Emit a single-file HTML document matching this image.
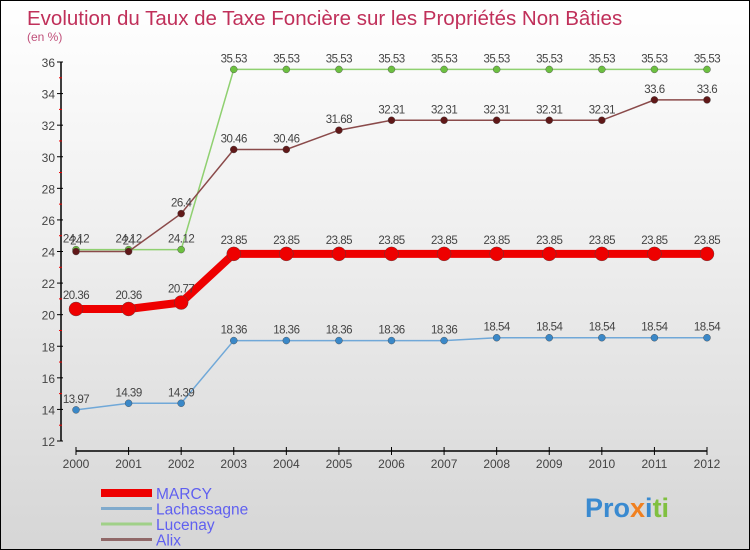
<!DOCTYPE html>
<html><head><meta charset="utf-8"><style>
body{margin:0}
#c{width:750px;height:550px;position:relative;box-sizing:border-box;border:1px solid #000;background:linear-gradient(#ffffff,#f0f0f0 40%,#d6d6d6);font-family:"Liberation Sans",sans-serif;overflow:hidden}
</style></head><body>
<div id="c">
<svg id="s" width="750" height="550" style="position:absolute;left:0;top:0">
<text x="26" y="24" font-size="20.5" fill="#c0305a">Evolution du Taux de Taxe Foncière sur les Propriétés Non Bâties</text>
<text x="26" y="40" font-size="12" fill="#c0507a">(en %)</text>
<g id="axes"></g><g id="series"></g><g id="legend"></g>
<text x="584" y="516" font-size="27" font-weight="bold" fill="#3a8ad0">Pro<tspan fill="#f08020">x</tspan><tspan fill="#3a8ad0">i</tspan><tspan fill="#80c040">ti</tspan></text>
</svg>
</div>
<script>
const years=[2000,2001,2002,2003,2004,2005,2006,2007,2008,2009,2010,2011,2012];
const yTicks=[12,14,16,18,20,22,24,26,28,30,32,34,36];
const marcy=[20.36,20.36,20.77,23.85,23.85,23.85,23.85,23.85,23.85,23.85,23.85,23.85,23.85];
const lachassagne=[13.97,14.39,14.39,18.36,18.36,18.36,18.36,18.36,18.54,18.54,18.54,18.54,18.54];
const lucenay=[24.12,24.12,24.12,35.53,35.53,35.53,35.53,35.53,35.53,35.53,35.53,35.53,35.53];
const alix=[24,24,26.4,30.46,30.46,31.68,32.31,32.31,32.31,32.31,32.31,33.6,33.6];
const names=["MARCY","Lachassagne","Lucenay","Alix"];
const NS="http://www.w3.org/2000/svg";
const X=i=>75+i*(706-75)/(years.length-1);
const Y=v=>61+(36-v)*(440-61)/(36-12);
function mk(tag,attrs,parent,text){const e=document.createElementNS(NS,tag);for(const k in attrs)e.setAttribute(k,attrs[k]);if(text!==undefined)e.textContent=text;parent.appendChild(e);return e;}
const ax=document.getElementById('axes');
let l=mk('line',{x1:60,y1:Y(36),x2:60,y2:Y(12),stroke:'#000','stroke-width':1.5},ax);


yTicks.forEach(v=>{
 mk('line',{x1:56,y1:Y(v),x2:62,y2:Y(v),stroke:'#000'},ax);
 if(v<36){mk('line',{x1:58,y1:Y(v+1),x2:61,y2:Y(v+1),stroke:'#e00'},ax);}
 const t=mk('text',{x:54,y:Y(v)+5,'font-size':12,'text-anchor':'end',fill:'#444'},ax,String(v));
 
 
});
l=mk('line',{x1:75,y1:450,x2:706,y2:450,stroke:'#000','stroke-width':1.5},ax);


years.forEach((y,i)=>{
 mk('line',{x1:X(i),y1:446,x2:X(i),y2:454,stroke:'#000'},ax);
 const t=mk('text',{x:X(i),y:467,'font-size':12,'text-anchor':'middle',fill:'#444'},ax,String(y));
 
 
});
const sg=document.getElementById('series');
const cfg=[
 {d:lucenay,c:'#8fd070',pc:'#6cc040',w:1.5,r:3.5,n:'lucenay'},
 {d:alix,c:'#8a4a4a',pc:'#601818',w:1.5,r:3.5,n:'alix'},
 {d:lachassagne,c:'#70a8d8',pc:'#3a88c8',w:1.5,r:3.5,n:'lachassagne'},
 {d:marcy,c:'#ee0000',pc:'#ee0000',w:8,r:7,n:'marcy'}];
cfg.forEach(s=>{
 const g=mk('g',{},sg);
 
 
 const p=mk('polyline',{points:s.d.map((v,i)=>X(i)+','+Y(v)).join(' '),fill:'none',stroke:s.c,'stroke-width':s.w},g);
 
 
 s.d.forEach((v,i)=>{
  const c=mk('circle',{cx:X(i),cy:Y(v),r:s.r,fill:s.pc,stroke:'#444','stroke-width':0.4},g);
  
  
  const t=mk('text',{x:X(i),y:Y(v)-(s.w>4?10:7),'font-size':11.5,'text-anchor':'middle',fill:'#444','letter-spacing':'-0.5'},g,String(v));
  
  
 });
});
const lg=document.getElementById('legend');
const lc=['#ee0000','#80aacc','#a0d088','#906868'],lw=[8,3,3,3];
names.forEach((n,i)=>{
 const y=492+i*15.5;
 const e=mk('line',{x1:100,y1:y,x2:151,y2:y,stroke:lc[i],'stroke-width':lw[i]},lg);
 
 
 const t=mk('text',{x:155,y:y+6,'font-size':15.5,fill:'#6060f0'},lg,n);
 
 
});
</script>
</body></html>
